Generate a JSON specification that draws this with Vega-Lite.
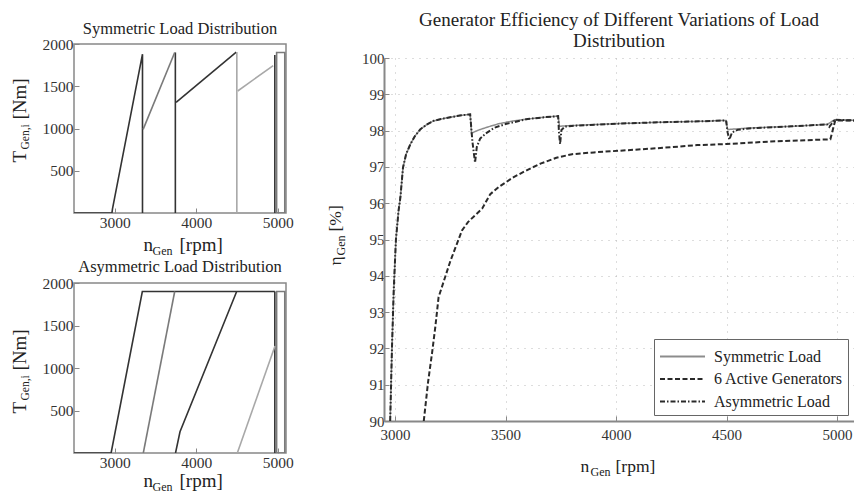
{
  "$schema": "https://vega.github.io/schema/vega-lite/v6.json",
  "padding": {"left": 9, "top": 11, "right": 0, "bottom": 0},
  "background": "white",
  "config": {
    "font": "Liberation Serif",
    "axis": {"labelFont": "Liberation Serif", "titleFont": "Liberation Serif", "labelColor": "#333", "titleColor": "#222", "titleFontWeight": "normal", "domainColor": "#888", "tickColor": "#888"},
    "title": {"font": "Liberation Serif", "fontWeight": "normal", "color": "#222"},
    "legend": {"labelFont": "Liberation Serif"}
  },
  "resolve": {"scale": {"color": "independent", "strokeDash": "independent"}, "legend": {"color": "independent", "strokeDash": "independent"}},
  "hconcat": [
    {
      "spacing": 0,
      "vconcat": [
        {
          "width": 212, "height": 169,
          "view": {"stroke": "#888", "strokeWidth": 1.5},
          "title": {"text": "Symmetric Load Distribution", "fontSize": 16.5, "offset": 0},
          "data": {"values": [
            {"seg": "A", "shade": "dark", "i": 1, "n": 2500, "T": 0},
            {"seg": "A", "shade": "dark", "i": 2, "n": 2965, "T": 0},
            {"seg": "A", "shade": "dark", "i": 3, "n": 2972, "T": 50},
            {"seg": "A", "shade": "dark", "i": 4, "n": 3340, "T": 1880},
            {"seg": "A", "shade": "dark", "i": 5, "n": 3340, "T": 0},
            {"seg": "B", "shade": "mid", "i": 1, "n": 3348, "T": 990},
            {"seg": "B", "shade": "mid", "i": 2, "n": 3735, "T": 1900},
            {"seg": "C", "shade": "dark", "i": 1, "n": 3743, "T": 1900},
            {"seg": "C", "shade": "dark", "i": 2, "n": 3743, "T": 0},
            {"seg": "D", "shade": "dark", "i": 1, "n": 3752, "T": 1310},
            {"seg": "D", "shade": "dark", "i": 2, "n": 4490, "T": 1905},
            {"seg": "E", "shade": "light", "i": 1, "n": 4497, "T": 1905},
            {"seg": "E", "shade": "light", "i": 2, "n": 4497, "T": 0},
            {"seg": "F", "shade": "light", "i": 1, "n": 4508, "T": 1444},
            {"seg": "F", "shade": "light", "i": 2, "n": 4943, "T": 1745},
            {"seg": "G", "shade": "dark", "i": 1, "n": 4963, "T": 0},
            {"seg": "G", "shade": "dark", "i": 2, "n": 4963, "T": 1870},
            {"seg": "H", "shade": "mid", "i": 1, "n": 4985, "T": 0},
            {"seg": "H", "shade": "mid", "i": 2, "n": 4985, "T": 1900},
            {"seg": "H", "shade": "mid", "i": 3, "n": 5085, "T": 1900},
            {"seg": "H", "shade": "mid", "i": 4, "n": 5085, "T": 0},
            {"seg": "H", "shade": "mid", "i": 5, "n": 4985, "T": 0}
          ]},
          "resolve": {"axis": {"x": "independent", "y": "independent"}},
          "layer": [
            {
              "transform": [{"filter": "datum.shade === 'dark'"}],
              "mark": {"type": "line", "color": "#333", "strokeWidth": 1.6, "clip": true},
              "encoding": {
                "x": {"field": "n", "type": "quantitative", "scale": {"domain": [2500, 5100], "nice": false, "zero": false},
                  "axis": {"title": "n", "titleX": 69, "titleY": 37, "titleAlign": "left", "titleBaseline": "alphabetic", "titleFontSize": 19, "values": [3000, 4000, 5000], "format": "d", "labelFontSize": 15.5, "tickSize": -5, "labelPadding": 7, "domain": false, "grid": false, "labelFlush": false}},
                "y": {"field": "T", "type": "quantitative", "scale": {"domain": [0, 2000], "nice": false},
                  "axis": {"title": "T", "titleX": -49, "titleY": 118, "titleAngle": -90, "titleAlign": "left", "titleBaseline": "alphabetic", "titleFontSize": 19, "values": [500, 1000, 1500, 2000], "format": "d", "labelFontSize": 15.5, "tickSize": -5, "labelPadding": 6, "domain": false, "grid": false}},
                "detail": {"field": "seg"},
                "order": {"field": "i"}
              }
            },
            {
              "transform": [{"filter": "datum.shade === 'mid'"}],
              "mark": {"type": "line", "color": "#7a7a7a", "strokeWidth": 1.6, "clip": true},
              "encoding": {
                "x": {"field": "n", "type": "quantitative",
                  "axis": {"title": "Gen", "orient": "bottom", "titleX": 78, "titleY": 41, "titleAlign": "left", "titleBaseline": "alphabetic", "titleFontSize": 12, "labels": false, "ticks": false, "domain": false, "grid": false}},
                "y": {"field": "T", "type": "quantitative",
                  "axis": {"title": "Gen,i", "orient": "left", "titleX": -46, "titleY": 105, "titleAngle": -90, "titleAlign": "left", "titleBaseline": "alphabetic", "titleFontSize": 11.5, "labels": false, "ticks": false, "domain": false, "grid": false}},
                "detail": {"field": "seg"},
                "order": {"field": "i"}
              }
            },
            {
              "transform": [{"filter": "datum.shade === 'light'"}],
              "mark": {"type": "line", "color": "#a8a8a8", "strokeWidth": 1.6, "clip": true},
              "encoding": {
                "x": {"field": "n", "type": "quantitative",
                  "axis": {"title": "[rpm]", "orient": "bottom", "titleX": 105, "titleY": 37, "titleAlign": "left", "titleBaseline": "alphabetic", "titleFontSize": 19, "labels": false, "ticks": false, "domain": false, "grid": false}},
                "y": {"field": "T", "type": "quantitative",
                  "axis": {"title": "[Nm]", "orient": "left", "titleX": -49, "titleY": 75, "titleAngle": -90, "titleAlign": "left", "titleBaseline": "alphabetic", "titleFontSize": 19, "labels": false, "ticks": false, "domain": false, "grid": false}},
                "detail": {"field": "seg"},
                "order": {"field": "i"}
              }
            }
          ]
        },
        {
          "width": 212, "height": 170,
          "view": {"stroke": "#888", "strokeWidth": 1.5},
          "title": {"text": "Asymmetric Load Distribution", "fontSize": 16.5, "offset": 1},
          "data": {"values": [
            {"seg": "A", "shade": "dark", "i": 1, "n": 2500, "T": 0},
            {"seg": "A", "shade": "dark", "i": 2, "n": 2955, "T": 0},
            {"seg": "A", "shade": "dark", "i": 3, "n": 3338, "T": 1900},
            {"seg": "A", "shade": "dark", "i": 4, "n": 4963, "T": 1900},
            {"seg": "B", "shade": "mid", "i": 1, "n": 3350, "T": 0},
            {"seg": "B", "shade": "mid", "i": 2, "n": 3735, "T": 1900},
            {"seg": "C", "shade": "dark", "i": 1, "n": 3745, "T": 0},
            {"seg": "C", "shade": "dark", "i": 2, "n": 3800, "T": 250},
            {"seg": "C", "shade": "dark", "i": 3, "n": 4495, "T": 1900},
            {"seg": "D", "shade": "light", "i": 1, "n": 4503, "T": 0},
            {"seg": "D", "shade": "light", "i": 2, "n": 4965, "T": 1260},
            {"seg": "E", "shade": "dark", "i": 1, "n": 4963, "T": 0},
            {"seg": "E", "shade": "dark", "i": 2, "n": 4963, "T": 1900},
            {"seg": "F", "shade": "mid", "i": 1, "n": 4985, "T": 0},
            {"seg": "F", "shade": "mid", "i": 2, "n": 4985, "T": 1900},
            {"seg": "F", "shade": "mid", "i": 3, "n": 5085, "T": 1900},
            {"seg": "F", "shade": "mid", "i": 4, "n": 5085, "T": 0},
            {"seg": "F", "shade": "mid", "i": 5, "n": 4985, "T": 0}
          ]},
          "resolve": {"axis": {"x": "independent", "y": "independent"}},
          "layer": [
            {
              "transform": [{"filter": "datum.shade === 'dark'"}],
              "mark": {"type": "line", "color": "#333", "strokeWidth": 1.6, "clip": true},
              "encoding": {
                "x": {"field": "n", "type": "quantitative", "scale": {"domain": [2500, 5100], "nice": false, "zero": false},
                  "axis": {"title": "n", "titleX": 69, "titleY": 33, "titleAlign": "left", "titleBaseline": "alphabetic", "titleFontSize": 19, "values": [3000, 4000, 5000], "format": "d", "labelFontSize": 15.5, "tickSize": -5, "labelPadding": 7, "domain": false, "grid": false, "labelFlush": false}},
                "y": {"field": "T", "type": "quantitative", "scale": {"domain": [0, 2000], "nice": false},
                  "axis": {"title": "T", "titleX": -49, "titleY": 130, "titleAngle": -90, "titleAlign": "left", "titleBaseline": "alphabetic", "titleFontSize": 19, "values": [500, 1000, 1500, 2000], "format": "d", "labelFontSize": 15.5, "tickSize": -5, "labelPadding": 6, "domain": false, "grid": false}},
                "detail": {"field": "seg"},
                "order": {"field": "i"}
              }
            },
            {
              "transform": [{"filter": "datum.shade === 'mid'"}],
              "mark": {"type": "line", "color": "#7a7a7a", "strokeWidth": 1.6, "clip": true},
              "encoding": {
                "x": {"field": "n", "type": "quantitative",
                  "axis": {"title": "Gen", "orient": "bottom", "titleX": 78, "titleY": 37, "titleAlign": "left", "titleBaseline": "alphabetic", "titleFontSize": 12, "labels": false, "ticks": false, "domain": false, "grid": false}},
                "y": {"field": "T", "type": "quantitative",
                  "axis": {"title": "Gen,i", "orient": "left", "titleX": -46, "titleY": 117, "titleAngle": -90, "titleAlign": "left", "titleBaseline": "alphabetic", "titleFontSize": 11.5, "labels": false, "ticks": false, "domain": false, "grid": false}},
                "detail": {"field": "seg"},
                "order": {"field": "i"}
              }
            },
            {
              "transform": [{"filter": "datum.shade === 'light'"}],
              "mark": {"type": "line", "color": "#a8a8a8", "strokeWidth": 1.6, "clip": true},
              "encoding": {
                "x": {"field": "n", "type": "quantitative",
                  "axis": {"title": "[rpm]", "orient": "bottom", "titleX": 105, "titleY": 33, "titleAlign": "left", "titleBaseline": "alphabetic", "titleFontSize": 19, "labels": false, "ticks": false, "domain": false, "grid": false}},
                "y": {"field": "T", "type": "quantitative",
                  "axis": {"title": "[Nm]", "orient": "left", "titleX": -49, "titleY": 87, "titleAngle": -90, "titleAlign": "left", "titleBaseline": "alphabetic", "titleFontSize": 19, "labels": false, "ticks": false, "domain": false, "grid": false}},
                "detail": {"field": "seg"},
                "order": {"field": "i"}
              }
            }
          ]
        }
      ]
    },
    {
      "spacing": 0,
      "resolve": {"scale": {"color": "independent", "strokeDash": "independent"}, "legend": {"color": "independent", "strokeDash": "independent"}},
      "vconcat": [
        {
          "width": 470, "height": 1,
          "view": {"stroke": null},
          "title": {"text": ["Generator Efficiency of Different Variations of Load", "Distribution"], "fontSize": 19, "lineHeight": 21, "offset": -7},
          "data": {"values": []},
          "mark": {"type": "point", "opacity": 0},
          "encoding": {}
        },
        {
          "width": 470, "height": 363,
          "view": {"stroke": null},
          "data": {"values": [
            {"s": "Symmetric Load", "n": 2978, "e": 90}, {"s": "Symmetric Load", "n": 2986, "e": 92}, {"s": "Symmetric Load", "n": 2994, "e": 93.6},
            {"s": "Symmetric Load", "n": 3004, "e": 95}, {"s": "Symmetric Load", "n": 3016, "e": 95.8}, {"s": "Symmetric Load", "n": 3024, "e": 96.15},
            {"s": "Symmetric Load", "n": 3036, "e": 96.98}, {"s": "Symmetric Load", "n": 3050, "e": 97.35}, {"s": "Symmetric Load", "n": 3069, "e": 97.62},
            {"s": "Symmetric Load", "n": 3090, "e": 97.85}, {"s": "Symmetric Load", "n": 3115, "e": 98.04}, {"s": "Symmetric Load", "n": 3145, "e": 98.17},
            {"s": "Symmetric Load", "n": 3175, "e": 98.27}, {"s": "Symmetric Load", "n": 3210, "e": 98.32}, {"s": "Symmetric Load", "n": 3250, "e": 98.37},
            {"s": "Symmetric Load", "n": 3300, "e": 98.42}, {"s": "Symmetric Load", "n": 3340, "e": 98.45}, {"s": "Symmetric Load", "n": 3346, "e": 97.93},
            {"s": "Symmetric Load", "n": 3380, "e": 98.02}, {"s": "Symmetric Load", "n": 3420, "e": 98.1}, {"s": "Symmetric Load", "n": 3470, "e": 98.19},
            {"s": "Symmetric Load", "n": 3529, "e": 98.26}, {"s": "Symmetric Load", "n": 3600, "e": 98.32}, {"s": "Symmetric Load", "n": 3680, "e": 98.37},
            {"s": "Symmetric Load", "n": 3738, "e": 98.4}, {"s": "Symmetric Load", "n": 3744, "e": 98.12}, {"s": "Symmetric Load", "n": 3800, "e": 98.14},
            {"s": "Symmetric Load", "n": 4000, "e": 98.19}, {"s": "Symmetric Load", "n": 4200, "e": 98.23}, {"s": "Symmetric Load", "n": 4400, "e": 98.26},
            {"s": "Symmetric Load", "n": 4498, "e": 98.28}, {"s": "Symmetric Load", "n": 4505, "e": 98.03}, {"s": "Symmetric Load", "n": 4600, "e": 98.07},
            {"s": "Symmetric Load", "n": 4800, "e": 98.12}, {"s": "Symmetric Load", "n": 4955, "e": 98.17}, {"s": "Symmetric Load", "n": 4990, "e": 98.3},
            {"s": "Symmetric Load", "n": 5080, "e": 98.28},
            {"s": "6 Active Generators", "n": 3130, "e": 90}, {"s": "6 Active Generators", "n": 3150, "e": 91.1}, {"s": "6 Active Generators", "n": 3167, "e": 91.85},
            {"s": "6 Active Generators", "n": 3182, "e": 92.58}, {"s": "6 Active Generators", "n": 3197, "e": 93.41}, {"s": "6 Active Generators", "n": 3250, "e": 94.4},
            {"s": "6 Active Generators", "n": 3303, "e": 95.25}, {"s": "6 Active Generators", "n": 3330, "e": 95.48}, {"s": "6 Active Generators", "n": 3394, "e": 95.85},
            {"s": "6 Active Generators", "n": 3431, "e": 96.25}, {"s": "6 Active Generators", "n": 3470, "e": 96.45}, {"s": "6 Active Generators", "n": 3537, "e": 96.72},
            {"s": "6 Active Generators", "n": 3600, "e": 96.92}, {"s": "6 Active Generators", "n": 3658, "e": 97.09}, {"s": "6 Active Generators", "n": 3730, "e": 97.25},
            {"s": "6 Active Generators", "n": 3801, "e": 97.35}, {"s": "6 Active Generators", "n": 3900, "e": 97.4}, {"s": "6 Active Generators", "n": 3975, "e": 97.43},
            {"s": "6 Active Generators", "n": 4100, "e": 97.48}, {"s": "6 Active Generators", "n": 4200, "e": 97.52}, {"s": "6 Active Generators", "n": 4367, "e": 97.6},
            {"s": "6 Active Generators", "n": 4502, "e": 97.63}, {"s": "6 Active Generators", "n": 4700, "e": 97.7}, {"s": "6 Active Generators", "n": 4970, "e": 97.76},
            {"s": "6 Active Generators", "n": 4992, "e": 98.28}, {"s": "6 Active Generators", "n": 5080, "e": 98.28},
            {"s": "Asymmetric Load", "n": 2978, "e": 90}, {"s": "Asymmetric Load", "n": 2986, "e": 92}, {"s": "Asymmetric Load", "n": 2994, "e": 93.6},
            {"s": "Asymmetric Load", "n": 3004, "e": 95}, {"s": "Asymmetric Load", "n": 3016, "e": 95.8}, {"s": "Asymmetric Load", "n": 3024, "e": 96.15},
            {"s": "Asymmetric Load", "n": 3036, "e": 96.98}, {"s": "Asymmetric Load", "n": 3050, "e": 97.35}, {"s": "Asymmetric Load", "n": 3069, "e": 97.62},
            {"s": "Asymmetric Load", "n": 3090, "e": 97.85}, {"s": "Asymmetric Load", "n": 3115, "e": 98.04}, {"s": "Asymmetric Load", "n": 3145, "e": 98.17},
            {"s": "Asymmetric Load", "n": 3175, "e": 98.27}, {"s": "Asymmetric Load", "n": 3210, "e": 98.32}, {"s": "Asymmetric Load", "n": 3250, "e": 98.37},
            {"s": "Asymmetric Load", "n": 3300, "e": 98.42}, {"s": "Asymmetric Load", "n": 3340, "e": 98.45}, {"s": "Asymmetric Load", "n": 3350, "e": 97.7},
            {"s": "Asymmetric Load", "n": 3362, "e": 97.12}, {"s": "Asymmetric Load", "n": 3370, "e": 97.55}, {"s": "Asymmetric Load", "n": 3385, "e": 97.78},
            {"s": "Asymmetric Load", "n": 3410, "e": 97.92}, {"s": "Asymmetric Load", "n": 3450, "e": 98.08}, {"s": "Asymmetric Load", "n": 3500, "e": 98.18},
            {"s": "Asymmetric Load", "n": 3600, "e": 98.32}, {"s": "Asymmetric Load", "n": 3680, "e": 98.37}, {"s": "Asymmetric Load", "n": 3738, "e": 98.4},
            {"s": "Asymmetric Load", "n": 3742, "e": 97.95}, {"s": "Asymmetric Load", "n": 3747, "e": 97.63}, {"s": "Asymmetric Load", "n": 3753, "e": 98.02},
            {"s": "Asymmetric Load", "n": 3770, "e": 98.11}, {"s": "Asymmetric Load", "n": 3800, "e": 98.13}, {"s": "Asymmetric Load", "n": 4000, "e": 98.19},
            {"s": "Asymmetric Load", "n": 4200, "e": 98.23}, {"s": "Asymmetric Load", "n": 4400, "e": 98.26}, {"s": "Asymmetric Load", "n": 4498, "e": 98.28},
            {"s": "Asymmetric Load", "n": 4505, "e": 97.95}, {"s": "Asymmetric Load", "n": 4513, "e": 97.75}, {"s": "Asymmetric Load", "n": 4525, "e": 97.95},
            {"s": "Asymmetric Load", "n": 4550, "e": 98.02}, {"s": "Asymmetric Load", "n": 4600, "e": 98.06}, {"s": "Asymmetric Load", "n": 4800, "e": 98.12},
            {"s": "Asymmetric Load", "n": 4955, "e": 98.17}, {"s": "Asymmetric Load", "n": 4965, "e": 98.1}, {"s": "Asymmetric Load", "n": 4990, "e": 98.3},
            {"s": "Asymmetric Load", "n": 5080, "e": 98.28}
          ]},
          "resolve": {"axis": {"x": "independent", "y": "independent"}},
          "layer": [
            {
              "transform": [{"filter": "datum.s === 'Symmetric Load'"}],
              "mark": {"type": "line", "strokeWidth": 1.5, "clip": true},
              "encoding": {
                "x": {"field": "n", "type": "quantitative", "scale": {"domain": [2950, 5077], "nice": false, "zero": false},
                  "axis": {"title": "n", "titleX": 196, "titleY": 50, "titleAlign": "left", "titleBaseline": "alphabetic", "titleFontSize": 17.5, "values": [3000, 3500, 4000, 4500, 5000], "format": "d", "labelFontSize": 15, "tickSize": -5, "labelPadding": 11, "domainWidth": 2, "grid": true, "gridColor": "#bbb", "gridDash": [1, 6], "labelFlush": false}},
                "y": {"field": "e", "type": "quantitative", "scale": {"domain": [90, 100], "nice": false, "zero": false},
                  "axis": {"title": "η", "titleX": -44, "titleY": 207, "titleAngle": -90, "titleAlign": "left", "titleBaseline": "alphabetic", "titleFontSize": 17.5, "values": [90, 91, 92, 93, 94, 95, 96, 97, 98, 99, 100], "labelFontSize": 15, "tickSize": -5, "labelPadding": 5, "domainWidth": 2, "grid": true, "gridColor": "#bbb", "gridDash": [1, 6]}},
                "color": {"field": "s", "type": "nominal", "scale": {"domain": ["Symmetric Load", "6 Active Generators", "Asymmetric Load"], "range": ["#8c8c8c", "#2a2a2a", "#2a2a2a"]},
                  "legend": {"title": null, "orient": "bottom-right", "offset": 6, "symbolType": "M-2,0H2", "symbolSize": 506, "symbolOffset": 11, "symbolStrokeWidth": 1.8, "labelFontSize": 16, "labelColor": "#222", "strokeColor": "#666", "fillColor": "white", "padding": 5, "labelOffset": 19, "rowPadding": 1.5}},
                "strokeDash": {"field": "s", "type": "nominal", "scale": {"domain": ["Symmetric Load", "6 Active Generators", "Asymmetric Load"], "range": [[1, 0], [5, 2.5], [5, 2, 1.5, 2]]},
                  "legend": {"title": null, "orient": "bottom-right", "offset": 6, "symbolType": "M-2,0H2", "symbolSize": 506, "symbolOffset": 11, "symbolStrokeWidth": 1.8, "labelFontSize": 16, "labelColor": "#222", "strokeColor": "#666", "fillColor": "white", "padding": 5, "labelOffset": 19, "rowPadding": 1.5}}
              }
            },
            {
              "transform": [{"filter": "datum.s === '6 Active Generators'"}],
              "mark": {"type": "line", "strokeWidth": 2, "clip": true},
              "encoding": {
                "x": {"field": "n", "type": "quantitative",
                  "axis": {"title": "Gen", "orient": "bottom", "titleX": 206, "titleY": 54, "titleAlign": "left", "titleBaseline": "alphabetic", "titleFontSize": 12, "labels": false, "ticks": false, "domain": false, "grid": false}},
                "y": {"field": "e", "type": "quantitative",
                  "axis": {"title": "Gen", "orient": "left", "titleX": -40, "titleY": 197, "titleAngle": -90, "titleAlign": "left", "titleBaseline": "alphabetic", "titleFontSize": 12, "labels": false, "ticks": false, "domain": false, "grid": false}},
                "color": {"field": "s", "type": "nominal"},
                "strokeDash": {"field": "s", "type": "nominal"}
              }
            },
            {
              "transform": [{"filter": "datum.s === 'Asymmetric Load'"}],
              "mark": {"type": "line", "strokeWidth": 2, "clip": true},
              "encoding": {
                "x": {"field": "n", "type": "quantitative",
                  "axis": {"title": "[rpm]", "orient": "bottom", "titleX": 231, "titleY": 50, "titleAlign": "left", "titleBaseline": "alphabetic", "titleFontSize": 17.5, "labels": false, "ticks": false, "domain": false, "grid": false}},
                "y": {"field": "e", "type": "quantitative",
                  "axis": {"title": "[%]", "orient": "left", "titleX": -44, "titleY": 173, "titleAngle": -90, "titleAlign": "left", "titleBaseline": "alphabetic", "titleFontSize": 17.5, "labels": false, "ticks": false, "domain": false, "grid": false}},
                "color": {"field": "s", "type": "nominal"},
                "strokeDash": {"field": "s", "type": "nominal"}
              }
            }
          ]
        }
      ]
    }
  ],
  "spacing": 31
}
